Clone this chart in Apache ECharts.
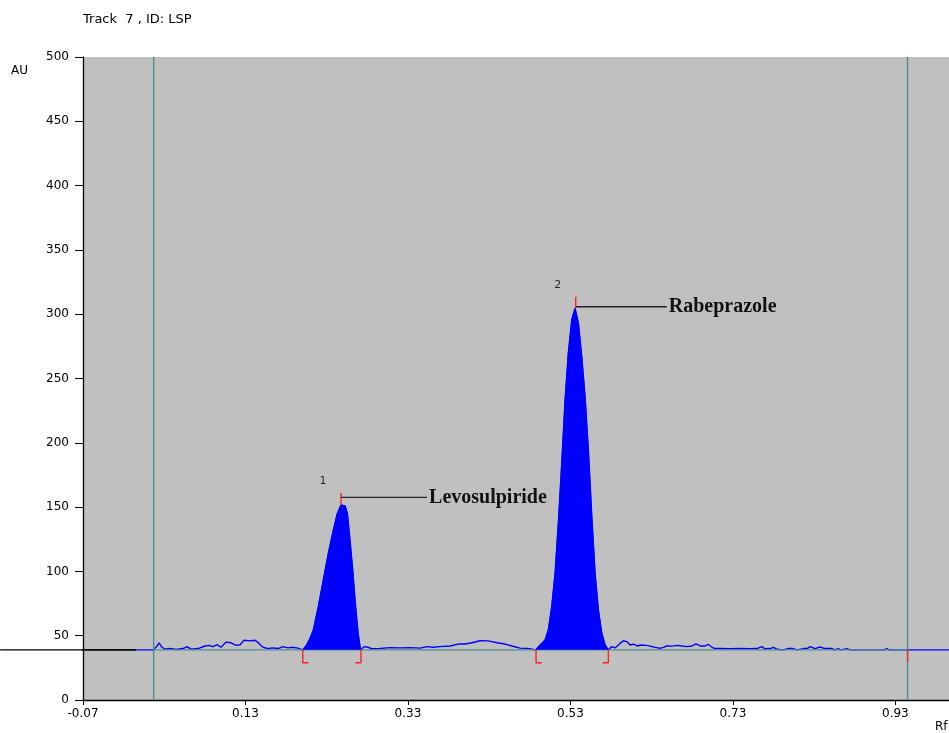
<!DOCTYPE html>
<html>
<head>
<meta charset="utf-8">
<script src="https://cdn.jsdelivr.net/npm/echarts@6/dist/echarts.min.js"></script>
<style>html,body{margin:0;padding:0;background:#fff;}#c{width:949px;height:733px;}</style>
</head>
<body>
<div id="c"></div>
<script>
// ---- data (Rf, AU) ----
var xTickValues = [-0.07, 0.13, 0.33, 0.53, 0.73, 0.93];
var baselineAU = 39;
var frontLines = [0.017, 0.945];
var preBaseline = [[-0.172, 39], [-0.0048, 39]];
var noiseLeft = [[-0.0048,39],[0.0162,39],[0.0199,41],[0.0236,44.5],[0.0273,41],[0.0309,39.5],[0.0371,40],[0.0445,39.3],[0.0531,40],[0.0580,41.5],[0.0630,39.5],[0.0716,40],[0.0802,42],[0.0851,42.5],[0.0900,41.5],[0.0950,43],[0.0999,41],[0.1060,45],[0.1122,44.5],[0.1184,42.5],[0.1233,43],[0.1282,46.5],[0.1356,46],[0.1417,46.5],[0.1467,44],[0.1516,41],[0.1578,40],[0.1639,40.5],[0.1701,40],[0.1762,41.5],[0.1824,40.5],[0.1873,41],[0.1935,40.5],[0.2005,39]];
var peak1 = [[0.2005,39],[0.2054,42.8],[0.2095,48],[0.2135,54.4],[0.2197,72.6],[0.2258,93.3],[0.2320,114],[0.2381,132],[0.2431,145],[0.2476,151.6],[0.2526,151],[0.2554,145],[0.2587,124],[0.2620,101],[0.2652,75],[0.2686,52],[0.2710,41.5],[0.2722,39]];
var noiseMid = [[0.2722,39],[0.2759,41.5],[0.2809,41],[0.2858,39.8],[0.2956,40],[0.3079,40.7],[0.3203,40.5],[0.3326,40.7],[0.3449,40.3],[0.3535,41.5],[0.3609,41],[0.3695,41.5],[0.3818,42],[0.3917,43.5],[0.4003,43.5],[0.4089,44.5],[0.4187,46.1],[0.4286,46],[0.4397,44.5],[0.4495,43.5],[0.4581,42],[0.4680,40.3],[0.4778,40],[0.4877,39]];
var peak2 = [[0.4877,39],[0.4905,41.4],[0.4988,46.7],[0.5028,54.4],[0.5070,72.6],[0.5111,98.5],[0.5151,137.4],[0.5193,184],[0.5234,233],[0.5274,269.6],[0.5316,295.5],[0.5357,304.6],[0.5398,293],[0.5439,267],[0.5480,236],[0.5521,194],[0.5563,142.5],[0.5603,98.5],[0.5644,70],[0.5686,51.9],[0.5726,42.8],[0.5767,39]];
var noiseRight = [[0.5767,39],[0.5809,41.5],[0.5849,40.5],[0.5911,44],[0.5952,46.1],[0.5993,45.4],[0.6034,42.8],[0.6075,43.5],[0.6120,42],[0.6170,42.8],[0.6231,42.5],[0.6280,41.9],[0.6342,40.9],[0.6403,40.2],[0.6444,40.9],[0.6486,42],[0.6551,41.9],[0.6613,42.5],[0.6674,42],[0.6736,41.5],[0.6797,42],[0.6847,43.6],[0.6896,42],[0.6957,42],[0.6998,43.2],[0.7044,41],[0.7081,40],[0.7142,40],[0.7265,39.8],[0.7388,40],[0.7511,39.8],[0.7597,40],[0.7655,41.5],[0.7696,39.8],[0.7757,40],[0.7798,40.9],[0.7844,39.5],[0.7918,39],[0.7979,40],[0.8041,40],[0.8090,39],[0.8164,40],[0.8213,40],[0.8250,41.5],[0.8312,40],[0.8373,41.2],[0.8435,40],[0.8521,40],[0.8558,39],[0.8595,40],[0.8632,39],[0.8702,40],[0.8743,39],[0.9161,39],[0.9194,40],[0.9222,39],[0.9448,39],[0.996,39]];
var peakNames = ['Levosulpiride', 'Rabeprazole'];
var peakNumbers = ['1', '2'];
var peakStart = [0.2005, 0.4877];
var peakEnd = [0.2722, 0.5767];
var peakApex = [0.2476, 0.5365];
var apexTickLow = [151.6, 304.6];
var apexTickHigh = [161, 313.6];
var leaderLevel = [157.5, 305.8];
var leaderEnd = [0.3535, 0.6486];
var bracketDepth = 29;
var bracketWidth = 0.007;
var yMin = 0, yMax = 500;

var red = '#ff2020';
var blue = '#0000ff';
var teal = '#4f8f8f';

var series = [];
series.push({type:'line', data: preBaseline, clip:false, symbol:'none', lineStyle:{color:'#000', width:1.3}, z:2});
series.push({type:'line', data: noiseLeft.concat(peak1.slice(1), noiseMid.slice(1), peak2.slice(1), noiseRight.slice(1)),
  symbol:'none', lineStyle:{color:blue, width:1.4}, z:2});
series.push({type:'line', data: [[frontLines[0], baselineAU], [frontLines[1], baselineAU]], symbol:'none',
  lineStyle:{color:teal, width:1.4}, z:3});
frontLines.forEach(function(v){
  series.push({type:'line', data:[[v, yMin],[v, yMax]], symbol:'none', lineStyle:{color:teal, width:1.4}, z:3});
});
[peak1, peak2].forEach(function(p){
  series.push({type:'line', data:p, symbol:'none', lineStyle:{color:blue, width:1}, areaStyle:{color:blue, opacity:1, origin:baselineAU}, z:4});
});
for (var i = 0; i < 2; i++) {
  series.push({type:'line', data:[[peakStart[i], baselineAU],[peakStart[i], bracketDepth],[peakStart[i]+bracketWidth, bracketDepth]], symbol:'none', clip:false, lineStyle:{color:red, width:1.4}, z:5});
  series.push({type:'line', data:[[peakEnd[i]-bracketWidth, bracketDepth],[peakEnd[i], bracketDepth],[peakEnd[i], baselineAU]], symbol:'none', clip:false, lineStyle:{color:red, width:1.4}, z:5});
  series.push({type:'line', data:[[peakApex[i], apexTickLow[i]],[peakApex[i], apexTickHigh[i]]], symbol:'none', lineStyle:{color:red, width:1.4}, z:5});
  series.push({type:'line', name: peakNames[i], data:[[peakApex[i], leaderLevel[i]],[leaderEnd[i], leaderLevel[i]]], symbol:'none',
    lineStyle:{color:'#222', width:1.3}, z:5,
    endLabel:{show:true, formatter: peakNames[i], distance:2, color:'#111', fontFamily:'Liberation Serif', fontWeight:'bold', fontSize:20}});
  series.push({type:'scatter', data:[[peakApex[i], apexTickHigh[i]]], symbolSize:0, z:5,
    label:{show:true, position:'inside', formatter: peakNumbers[i], offset:[-18,-12], color:'#000', fontFamily:'DejaVu Sans', fontSize:11}});
}
series.push({type:'line', data:[[frontLines[1], baselineAU],[frontLines[1], 30]], symbol:'none', lineStyle:{color:red, width:1.4}, z:5});

var chart = echarts.init(document.getElementById('c'), null, {renderer:'canvas'});
chart.setOption({
  animation:false,
  backgroundColor:'#ffffff',
  title:[
    {text:'Track  7 , ID: LSP', left:83, top:13, padding:0, textStyle:{fontFamily:'DejaVu Sans', fontSize:13, fontWeight:'normal', color:'#000'}},
    {text:'AU', left:11, top:65, padding:0, textStyle:{fontFamily:'DejaVu Sans', fontSize:12, fontWeight:'normal', color:'#000'}},
    {text:'Rf', left:935, top:721, padding:0, textStyle:{fontFamily:'DejaVu Sans', fontSize:12, fontWeight:'normal', color:'#000'}}
  ],
  grid:{left:83, right:0, top:57, bottom:33, show:true, backgroundColor:'#c0c0c0', borderWidth:0, containLabel:false, outerBoundsMode:'none'},
  xAxis:{type:'value', min:-0.07, max:0.996,
    axisLine:{show:true, onZero:false, lineStyle:{color:'#000', width:1.3}},
    axisTick:{show:true, length:5, customValues:xTickValues, lineStyle:{color:'#000'}},
    axisLabel:{customValues:xTickValues, formatter:function(v){return v.toFixed(2);}, margin:8, color:'#000', fontFamily:'DejaVu Sans', fontSize:12},
    splitLine:{show:false}},
  yAxis:{type:'value', min:yMin, max:yMax, interval:50,
    axisLine:{show:true, onZero:false, lineStyle:{color:'#000', width:1.3}},
    axisTick:{show:true, length:8, lineStyle:{color:'#000'}},
    axisLabel:{margin:14, color:'#000', fontFamily:'DejaVu Sans', fontSize:12},
    splitLine:{show:false}},
  series: series
});
// baseline segment that continues left of the y axis, placed through the chart's own scales
var p0 = chart.convertToPixel({gridIndex:0}, preBaseline[0]);
var p1 = chart.convertToPixel({gridIndex:0}, preBaseline[1]);
chart.setOption({graphic:[{type:'line', z:100, shape:{x1:p0[0], y1:p0[1], x2:p1[0], y2:p1[1]}, style:{stroke:'#000', lineWidth:1.3}}]});
</script>
</body>
</html>
